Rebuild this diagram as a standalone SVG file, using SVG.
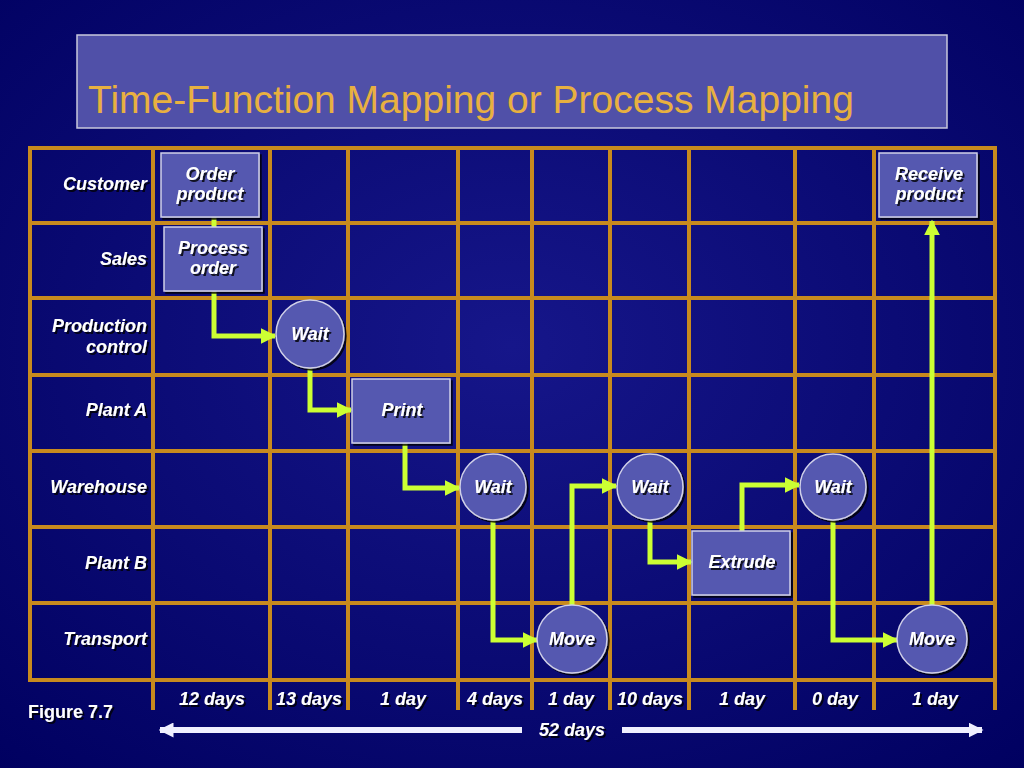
<svg xmlns="http://www.w3.org/2000/svg" width="1024" height="768" viewBox="0 0 1024 768">
<defs>
<radialGradient id="bg" cx="0.5" cy="0.45" r="0.75"><stop offset="0" stop-color="#16168a"/><stop offset="1" stop-color="#000060"/></radialGradient>
<marker id="ah" viewBox="0 0 10 10" refX="9" refY="5" markerWidth="3.2" markerHeight="3.2" orient="auto"><path d="M0,0L10,5L0,10z" fill="#ccff33"/></marker>
<marker id="wh" viewBox="0 0 10 10" refX="9" refY="5" markerWidth="2.5" markerHeight="2.5" orient="auto-start-reverse"><path d="M0,0L10,5L0,10z" fill="#f0f0ff"/></marker>
<filter id="sh"><feDropShadow dx="2" dy="2" stdDeviation="0.5" flood-color="#000" flood-opacity="0.8"/></filter>
</defs>
<style>
.g{stroke:#c88a1e;stroke-width:4;fill:none}
.n{fill:#5558b0;stroke:#d0d0e8;stroke-width:1.5;filter:url(#sh)}
.t{font-family:"Liberation Sans",Arial,sans-serif;font-weight:bold;font-style:italic;font-size:18px;fill:#fff;filter:url(#sh)}
.nt{text-anchor:middle}
.lb{text-anchor:end}
.c{stroke:#ccff33;stroke-width:5;fill:none;marker-end:url(#ah)}
</style>
<rect width="1024" height="768" fill="url(#bg)"/>
<g id="title"><rect x="77" y="35" width="870" height="93" fill="#5050a8" stroke="#c8c8dc" stroke-width="1.5"/>
<text x="88" y="113" font-family="Liberation Sans,Arial,sans-serif" font-size="39" fill="#e8b040">Time-Function Mapping or Process Mapping</text></g>
<g id="grid">
<rect class="g" x="30" y="148" width="965" height="532"/>
<path class="g" d="M30,223H995M30,298H995M30,375H995M30,451H995M30,527H995M30,603H995M153,148V710M270,148V710M348,148V710M458,148V710M532,148V710M610,148V710M689,148V710M795,148V710M874,148V710M995,148V710"/>
</g>
<g id="labels" class="t lb">
<text x="147" y="190">Customer</text>
<text x="147" y="265">Sales</text>
<text x="147" y="332">Production</text><text x="147" y="353">control</text>
<text x="147" y="416">Plant A</text>
<text x="147" y="493">Warehouse</text>
<text x="147" y="569">Plant B</text>
<text x="147" y="645">Transport</text>
</g>
<g id="connectors">
<path d="M214,217V228" stroke="#ccff33" stroke-width="5"/>
<path class="c" d="M214,291V336H275"/>
<path class="c" d="M310,368V410H351"/>
<path class="c" d="M405,443V488H459"/>
<path class="c" d="M493,520V640H537"/>
<path class="c" d="M572,605V486H616"/>
<path class="c" d="M650,520V562H691"/>
<path class="c" d="M742,531V485H799"/>
<path class="c" d="M833,520V640H897"/>
<path class="c" d="M932,605V221"/>
</g>
<g id="order"><rect class="n" x="161" y="153" width="98" height="64"/><text class="t nt" x="210" y="180">Order</text><text class="t nt" x="210" y="200">product</text></g>
<g id="process"><rect class="n" x="164" y="227" width="98" height="64"/><text class="t nt" x="213" y="254">Process</text><text class="t nt" x="213" y="274">order</text></g>
<g id="wait1"><circle class="n" cx="310" cy="334" r="34"/><text class="t nt" x="310" y="340">Wait</text></g>
<g id="print"><rect class="n" x="352" y="379" width="98" height="64"/><text class="t nt" x="402" y="416">Print</text></g>
<g id="wait2"><circle class="n" cx="493" cy="487" r="33"/><text class="t nt" x="493" y="493">Wait</text></g>
<g id="move1"><ellipse class="n" cx="572" cy="639" rx="35" ry="34"/><text class="t nt" x="572" y="645">Move</text></g>
<g id="wait3"><circle class="n" cx="650" cy="487" r="33"/><text class="t nt" x="650" y="493">Wait</text></g>
<g id="extrude"><rect class="n" x="692" y="531" width="98" height="64"/><text class="t nt" x="742" y="568">Extrude</text></g>
<g id="wait4"><circle class="n" cx="833" cy="487" r="33"/><text class="t nt" x="833" y="493">Wait</text></g>
<g id="move2"><ellipse class="n" cx="932" cy="639" rx="35" ry="34"/><text class="t nt" x="932" y="645">Move</text></g>
<g id="receive"><rect class="n" x="879" y="153" width="98" height="64"/><text class="t nt" x="929" y="180">Receive</text><text class="t nt" x="929" y="200">product</text></g>
<g id="days" class="t nt">
<text x="212" y="705">12 days</text><text x="309" y="705">13 days</text><text x="403" y="705">1 day</text><text x="495" y="705">4 days</text><text x="571" y="705">1 day</text><text x="650" y="705">10 days</text><text x="742" y="705">1 day</text><text x="835" y="705">0 day</text><text x="935" y="705">1 day</text>
<text x="572" y="736">52 days</text>
</g>
<text x="28" y="718" font-family="Liberation Sans,Arial,sans-serif" font-weight="bold" font-size="18" fill="#fff" filter="url(#sh)">Figure 7.7</text>
<g id="span" stroke="#f0f0ff" stroke-width="6">
<path d="M522,730H160" marker-end="url(#wh)"/>
<path d="M622,730H982" marker-end="url(#wh)"/>
</g>
</svg>
